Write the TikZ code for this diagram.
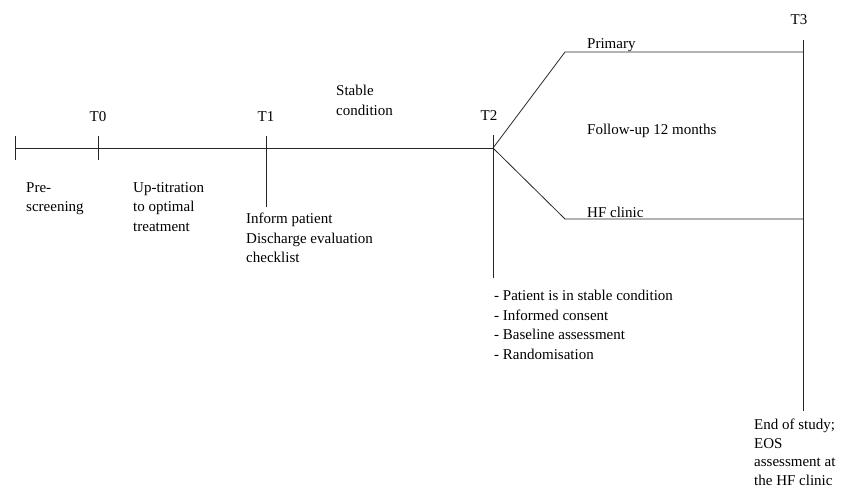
\documentclass[tikz,border=0pt]{standalone}
\usepackage{fontspec}
\setmainfont{Liberation Serif}
\usetikzlibrary{positioning}

\begin{document}
\begin{tikzpicture}[x=1pt,y=-1pt]
\tikzstyle{line}=[line width=0.8pt, draw=black!85]
\tikzstyle{lbl}=[inner sep=0pt, font=\fontsize{15}{19.5}\selectfont]
\tikzstyle{txt}=[lbl, align=left, anchor=north west]
\useasboundingbox (0,0) rectangle (859,491);
% timeline points
\coordinate (start) at (15,148);
\coordinate (t0) at (98,148);
\coordinate (t1) at (266,148);
\coordinate (t2) at (493,148);
\coordinate (prima) at (565,52);
\coordinate (primb) at (803,52);
\coordinate (hfa) at (565,219);
\coordinate (hfb) at (803,219);
% tick ends
\coordinate (starttop) at (15,136);
\coordinate (startbot) at (15,160);
\coordinate (t0top) at (98,136);
\coordinate (t0bot) at (98,160);
\coordinate (t1top) at (266,136);
\coordinate (t1bot) at (266,207);
\coordinate (t2top) at (493,135);
\coordinate (t2bot) at (493,278);
\coordinate (t3top) at (803,40);
\coordinate (t3bot) at (803,411);
\path[line] (start) edge (t2);
\path[line] (starttop) edge (startbot);
\path[line] (t0top) edge (t0bot);
\path[line] (t1top) edge (t1bot);
\path[line] (t2top) edge (t2bot);
\path[line] (t3top) edge (t3bot);
\draw[line] (t2) -- (prima) -- (primb);
\draw[line] (t2) -- (hfa) -- (hfb);
% time labels
\node[lbl] (lt0) at (98,117) {T0};
\node[lbl] (lt1) at (266,117) {T1};
\node[lbl] (lt2) at (489,116) {T2};
\node[lbl] (lt3) at (799,20) {T3};
% phase texts
\node[txt] (pre) at (26,182) {Pre-\\screening};
\node[txt] (uptit) at (133,182) {Up-titration\\to optimal\\treatment};
\node[txt] (inform) at (246,213) {Inform patient\\Discharge evaluation\\checklist};
\node[txt] (stable) at (336,85) {Stable\\condition};
\node[lbl, anchor=base west] (primary) at (587,48) {Primary};
\node[lbl, anchor=base west] (follow) at (587,134) {Follow-up 12 months};
\node[lbl, anchor=base west] (hfclinic) at (587,217) {HF clinic};
\node[txt] (baseline) at (494,290) {- Patient is in stable condition\\- Informed consent\\- Baseline assessment\\- Randomisation};
\node[txt, font=\fontsize{15}{18.5}\selectfont] (eos) at (754,419) {End of study;\\EOS\\assessment at\\the HF clinic};
\end{tikzpicture}
\end{document}
